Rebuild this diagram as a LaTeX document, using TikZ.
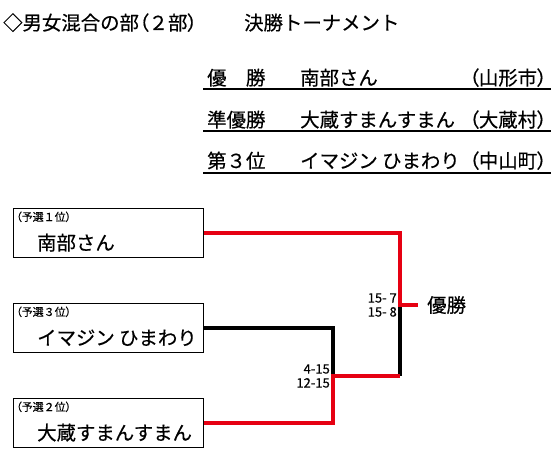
\documentclass[tikz,border=0pt]{standalone}
\usepackage{fontspec}
\setmainfont[FakeBold=0.4]{Noto Sans CJK JP}
\newfontfamily\paltfont[RawFeature=+palt, FakeBold=0.4]{Noto Sans CJK JP}
\usepackage{tikz}
\usetikzlibrary{positioning,calc}
\definecolor{winred}{RGB}{230,0,18}
\definecolor{inkblack}{RGB}{0,0,0}
\newcommand{\largejp}{\fontsize{19.4}{22}\selectfont}
\newcommand{\lp}{{\paltfont（}}
\newcommand{\rp}{{\paltfont）}}

\begin{document}
\begin{tikzpicture}[x=1pt, y=-1pt,
  teambox/.style={draw=inkblack, line width=1.2pt, minimum width=190pt, minimum height=49pt, inner sep=0pt, anchor=north west},
  rank/.style={anchor=base west, inner sep=0pt, font=\fontsize{11}{12}\selectfont},
  team/.style={anchor=base west, inner sep=0pt, font=\largejp},
  score/.style={align=right, inner sep=1.5pt, anchor=east, font=\fontsize{13}{14}\selectfont},
  winline/.style={draw=winred, line width=3.8pt},
  loseline/.style={draw=inkblack, line width=3.8pt},
  rule/.style={draw=inkblack, line width=1.8pt}]
  \useasboundingbox (0,0) rectangle (557,476);

  \node[anchor=base west, inner sep=0pt, font=\largejp] (title) at (3,30) {◇男女混合の部\lp２部\rp\hspace{47pt}決勝トーナメント};

  \node[team] (p1) at (207,85) {優　勝};
  \node[team] (n1) at (300,85) {南部さん};
  \node[team, anchor=base east, font=\paltfont\largejp] (c1) at (547,85) {（山形市）};
  \draw[rule] (203,89) -- (551,89);
  \node[team] (p2) at (207,127) {準優勝};
  \node[team] (n2) at (300,127) {大蔵すまんすまん};
  \node[team, anchor=base east, font=\paltfont\largejp] (c2) at (547,127) {（大蔵村）};
  \draw[rule] (203,131) -- (551,131);
  \node[team] (p3) at (207,168) {第３位};
  \node[team] (n3) at (300,168) {イマジン ひまわり};
  \node[team, anchor=base east, font=\paltfont\largejp] (c3) at (547,168) {（中山町）};
  \draw[rule] (203,173) -- (551,173);

  \node[teambox] (yosen1) at (13,208) {};
  \node[rank] (r1) at ($(yosen1.north west)+(3,13)$) {\lp 予選１位\rp};
  \node[team] (t1) at ($(yosen1.north west)+(24,42)$) {南部さん};
  \node[teambox] (yosen3) at (13,303) {};
  \node[rank] (r3) at ($(yosen3.north west)+(3,13)$) {\lp 予選３位\rp};
  \node[team] (t3) at ($(yosen3.north west)+(24,42)$) {イマジン ひまわり};
  \node[teambox] (yosen2) at (13,398) {};
  \node[rank] (r2) at ($(yosen2.north west)+(3,13)$) {\lp 予選２位\rp};
  \node[team] (t2) at ($(yosen2.north west)+(24,42)$) {大蔵すまんすまん};

  \coordinate (semi) at (333,376);
  \coordinate (final) at (400,305);
  \node[anchor=west, inner xsep=9pt, inner ysep=0pt, font=\largejp] (champ) at (418,305) {優勝};

  \draw[loseline] (yosen3.east) -| (semi);
  \draw[loseline] (semi -| final) -- (final);
  \draw[winline] (yosen2.east) -| (semi) -- (semi -| final);
  \draw[winline] (yosen1.east) -| (final) -- (champ.west);

  \node[score] (s1) at ([xshift=-1.5pt]final) {15- 7\\15- 8};
  \node[score] (s2) at ([xshift=-1.5pt]semi) {4-15\\12-15};
\end{tikzpicture}
\end{document}
